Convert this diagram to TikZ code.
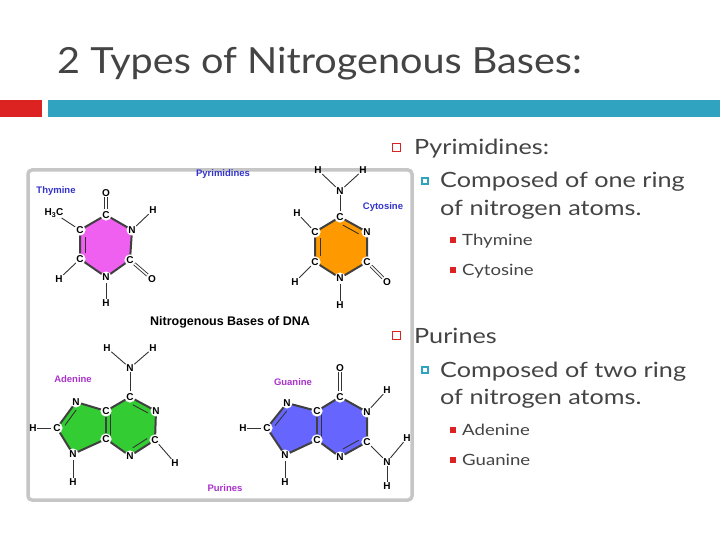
\documentclass[tikz,border=0pt]{standalone}
\usepackage{fontspec}
\setmainfont{Lato}
\setsansfont{Liberation Sans}
\newfontfamily\gill{Lato}[FakeStretch=1.2]
\newfontfamily\gillt{Lato}[FakeStretch=1.1]
\usetikzlibrary{calc}
\definecolor{teal1}{HTML}{2FA3BF}
\definecolor{red1}{HTML}{DD2222}
\definecolor{titlegray}{HTML}{444444}
\definecolor{pinkA}{HTML}{F060F0}
\definecolor{orangeA}{HTML}{FF9900}
\definecolor{greenA}{HTML}{33CC33}
\definecolor{blueA}{HTML}{6666FF}
\definecolor{lblue}{HTML}{3333CC}
\definecolor{lpurple}{HTML}{AA33CC}
\tikzset{
 atom/.style={circle,fill=white,inner sep=0.4pt,font=\sffamily\bfseries\fontsize{10}{10}\selectfont},
 hatom/.style={inner sep=0.5pt,font=\sffamily\bfseries\fontsize{10}{10}\selectfont},
 bond/.style={line width=0.9pt,black!80},
 ring/.style={line width=2pt,black!75,line join=round},
 dbl/.style={line width=0.9pt,black!80,double,double distance=1.6pt,draw=black!80},
 inner/.style={line width=0.9pt,black!80,shorten <=3pt,shorten >=3pt},
 lab/.style={font=\sffamily\bfseries\fontsize{9.5}{9.5}\selectfont},
 bodytxt/.style={anchor=base west,text=titlegray,inner sep=0pt},
 sqr/.style={draw=red1,fill=white,minimum size=8pt,inner sep=0pt,line width=0.6pt},
 sqt/.style={fill=teal1,minimum size=8pt,inner sep=0pt},
 sqs/.style={fill=red1,minimum size=6pt,inner sep=0pt}
}
\newcommand{\ib}[3]{\draw[inner] ($(#1)!0.22!(#3)$) -- ($(#2)!0.22!(#3)$);}
\begin{document}
\begin{tikzpicture}[x=1pt,y=-1pt]
\useasboundingbox (0,0) rectangle (720,540);
\fill[white] (0,0) rectangle (720,540);
% title and bars
\node[anchor=base west,text=titlegray,inner sep=0pt,font=\gillt\fontsize{36}{36}\selectfont] (title) at (57,74) {2 Types of Nitrogenous Bases:};
\fill[red1] (0,100) rectangle (42,117);
\fill[teal1] (48,100) rectangle (720,117);
% frame
\draw[gray!45,line width=3.5pt,fill=white,rounded corners=4pt] (28,170) rectangle (412,500);
% ---- Thymine
\coordinate (t1) at (106,215); \coordinate (t2) at (132,230); \coordinate (t3) at (130,260);
\coordinate (t4) at (106,277); \coordinate (t5) at (80,259); \coordinate (t6) at (80,230);
\coordinate (tc) at (106,246);
\fill[pinkA] (t1)--(t2)--(t3)--(t4)--(t5)--(t6)--cycle;
\draw[ring] (t1)--(t2)--(t3)--(t4)--(t5)--(t6)--cycle;
\ib{t5}{t6}{tc}
\node[atom] (T1) at (t1) {C}; \node[atom] (T2) at (t2) {N}; \node[atom] (T3) at (t3) {C};
\node[atom] (T4) at (t4) {N}; \node[atom] (T5) at (t5) {C}; \node[atom] (T6) at (t6) {C};
\node[hatom] (TO1) at (106,193) {O}; \node[hatom] (TH3C) at (54,213) {H\textsubscript{3}C};
\node[hatom] (TH1) at (153,210) {H}; \node[hatom] (TO2) at (152,279) {O};
\node[hatom] (TH2) at (59,279) {H}; \node[hatom] (TH3) at (106,303) {H};
\draw[dbl] (T1) -- (TO1); \draw[bond] (T6) -- (TH3C); \draw[bond] (T2) -- (TH1);
\draw[dbl] (T3) -- (TO2); \draw[bond] (T5) -- (TH2); \draw[bond] (T4) -- (TH3);
\node[lab,text=lblue] (tl) at (56,191) {Thymine};
\node[lab,text=lblue] (pyl) at (223,174) {Pyrimidines};
% ---- Cytosine
\coordinate (c1) at (340,217); \coordinate (c2) at (367,232); \coordinate (c3) at (367,262);
\coordinate (c4) at (340,278); \coordinate (c5) at (315,262); \coordinate (c6) at (315,232);
\coordinate (cc) at (341,247);
\fill[orangeA] (c1)--(c2)--(c3)--(c4)--(c5)--(c6)--cycle;
\draw[ring] (c1)--(c2)--(c3)--(c4)--(c5)--(c6)--cycle;
\ib{c1}{c2}{cc} \ib{c5}{c6}{cc}
\node[atom] (C1) at (c1) {C}; \node[atom] (C2) at (c2) {N}; \node[atom] (C3) at (c3) {C};
\node[atom] (C4) at (c4) {N}; \node[atom] (C5) at (c5) {C}; \node[atom] (C6) at (c6) {C};
\node[hatom] (CN) at (340,191) {N}; \node[hatom] (CHa) at (318,170) {H}; \node[hatom] (CHb) at (363,170) {H};
\node[hatom] (CO) at (387,282) {O}; \node[hatom] (CH1) at (340,305) {H};
\node[hatom] (CH2) at (297,213) {H}; \node[hatom] (CH3) at (295,282) {H};
\draw[bond] (C1) -- (CN); \draw[bond] (CN) -- (CHa); \draw[bond] (CN) -- (CHb);
\draw[dbl] (C3) -- (CO); \draw[bond] (C4) -- (CH1); \draw[bond] (C6) -- (CH2); \draw[bond] (C5) -- (CH3);
\node[lab,text=lblue] (cl) at (383,207) {Cytosine};
\node[font=\sffamily\bfseries\fontsize{12.5}{12.5}\selectfont] (dna) at (230,322) {Nitrogenous Bases of DNA};
% ---- Adenine
\coordinate (a1) at (130,397); \coordinate (a2) at (156,411); \coordinate (a3) at (155,440);
\coordinate (a4) at (130,456); \coordinate (a5) at (106,439); \coordinate (a6) at (106,411);
\coordinate (a7) at (76,402); \coordinate (a8) at (57,428); \coordinate (a9) at (73,454);
\coordinate (ac) at (131,426); \coordinate (ac2) at (85,427);
\fill[greenA] (a1)--(a2)--(a3)--(a4)--(a5)--(a9)--(a8)--(a7)--(a6)--cycle;
\draw[ring] (a1)--(a2)--(a3)--(a4)--(a5)--(a9)--(a8)--(a7)--(a6)--cycle;
\draw[ring] (a5)--(a6);
\ib{a1}{a2}{ac} \ib{a3}{a4}{ac} \ib{a7}{a8}{ac2}
\draw[inner] ($(a5)+(4,0)$) -- ($(a6)+(4,0)$);
\node[atom] (A1) at (a1) {C}; \node[atom] (A2) at (a2) {N}; \node[atom] (A3) at (a3) {C};
\node[atom] (A4) at (a4) {N}; \node[atom] (A5) at (a5) {C}; \node[atom] (A6) at (a6) {C};
\node[atom] (A7) at (a7) {N}; \node[atom] (A8) at (a8) {C}; \node[atom] (A9) at (a9) {N};
\node[hatom] (AN) at (130,368) {N}; \node[hatom] (AHa) at (107,348) {H}; \node[hatom] (AHb) at (153,348) {H};
\node[hatom] (AH1) at (175,463) {H}; \node[hatom] (AH2) at (33,428) {H}; \node[hatom] (AH3) at (73,482) {H};
\draw[bond] (A1) -- (AN); \draw[bond] (AN) -- (AHa); \draw[bond] (AN) -- (AHb);
\draw[bond] (A3) -- (AH1); \draw[bond] (A8) -- (AH2); \draw[bond] (A9) -- (AH3);
\node[lab,text=lpurple] (al) at (73,379) {Adenine};
% ---- Guanine
\coordinate (g1) at (340,397); \coordinate (g2) at (367,412); \coordinate (g3) at (367,442);
\coordinate (g4) at (340,457); \coordinate (g5) at (317,440); \coordinate (g6) at (317,411);
\coordinate (g7) at (287,403); \coordinate (g8) at (267,428); \coordinate (g9) at (285,455);
\coordinate (gc) at (342,427); \coordinate (gc2) at (295,428);
\fill[blueA] (g1)--(g2)--(g3)--(g4)--(g5)--(g9)--(g8)--(g7)--(g6)--cycle;
\draw[ring] (g1)--(g2)--(g3)--(g4)--(g5)--(g9)--(g8)--(g7)--(g6)--cycle;
\draw[ring] (g5)--(g6);
\ib{g3}{g4}{gc} \ib{g7}{g8}{gc2}
\draw[inner] ($(g5)+(4,0)$) -- ($(g6)+(4,0)$);
\node[atom] (G1) at (g1) {C}; \node[atom] (G2) at (g2) {N}; \node[atom] (G3) at (g3) {C};
\node[atom] (G4) at (g4) {N}; \node[atom] (G5) at (g5) {C}; \node[atom] (G6) at (g6) {C};
\node[atom] (G7) at (g7) {N}; \node[atom] (G8) at (g8) {C}; \node[atom] (G9) at (g9) {N};
\node[hatom] (GO) at (340,368) {O}; \node[hatom] (GH1) at (387,390) {H};
\node[hatom] (GN) at (387,462) {N}; \node[hatom] (GHa) at (407,438) {H}; \node[hatom] (GHb) at (387,486) {H};
\node[hatom] (GH2) at (243,428) {H}; \node[hatom] (GH3) at (285,482) {H};
\draw[dbl] (G1) -- (GO); \draw[bond] (G2) -- (GH1); \draw[bond] (G3) -- (GN);
\draw[bond] (GN) -- (GHa); \draw[bond] (GN) -- (GHb);
\draw[bond] (G8) -- (GH2); \draw[bond] (G9) -- (GH3);
\node[lab,text=lpurple] (gl) at (293,382) {Guanine};
\node[lab,text=lpurple] (pul) at (225,488) {Purines};
% ---- bullet text
\node[sqr] (b1) at (396,147) {};
\node[bodytxt,font=\gill\fontsize{21}{21}\selectfont] (t1x) at (414,155) {Pyrimidines:};
\node[sqt] (b2) at (425,181) {}; \fill[white] (423,179) rectangle (427,183);
\node[bodytxt,font=\gill\fontsize{21}{21}\selectfont] (t2x) at (440,188) {Composed of one ring};
\node[bodytxt,font=\gill\fontsize{21}{21}\selectfont] (t3x) at (440,215) {of nitrogen atoms.};
\node[sqs] (b3) at (453,240) {};
\node[bodytxt,font=\gill\fontsize{15.5}{15.5}\selectfont] (t4x) at (462,245) {Thymine};
\node[sqs] (b4) at (453,270) {};
\node[bodytxt,font=\gill\fontsize{15.5}{15.5}\selectfont] (t5x) at (462,275) {Cytosine};
\node[sqr] (b5) at (396,335) {};
\node[bodytxt,font=\gill\fontsize{21}{21}\selectfont] (t6x) at (414,343) {Purines};
\node[sqt] (b6) at (425,370) {}; \fill[white] (423,368) rectangle (427,372);
\node[bodytxt,font=\gill\fontsize{21}{21}\selectfont] (t7x) at (440,377) {Composed of two ring};
\node[bodytxt,font=\gill\fontsize{21}{21}\selectfont] (t8x) at (440,404) {of nitrogen atoms.};
\node[sqs] (b7) at (453,430) {};
\node[bodytxt,font=\gill\fontsize{15.5}{15.5}\selectfont] (t9x) at (462,435) {Adenine};
\node[sqs] (b8) at (453,460) {};
\node[bodytxt,font=\gill\fontsize{15.5}{15.5}\selectfont] (t10x) at (462,465) {Guanine};
\end{tikzpicture}
\end{document}
